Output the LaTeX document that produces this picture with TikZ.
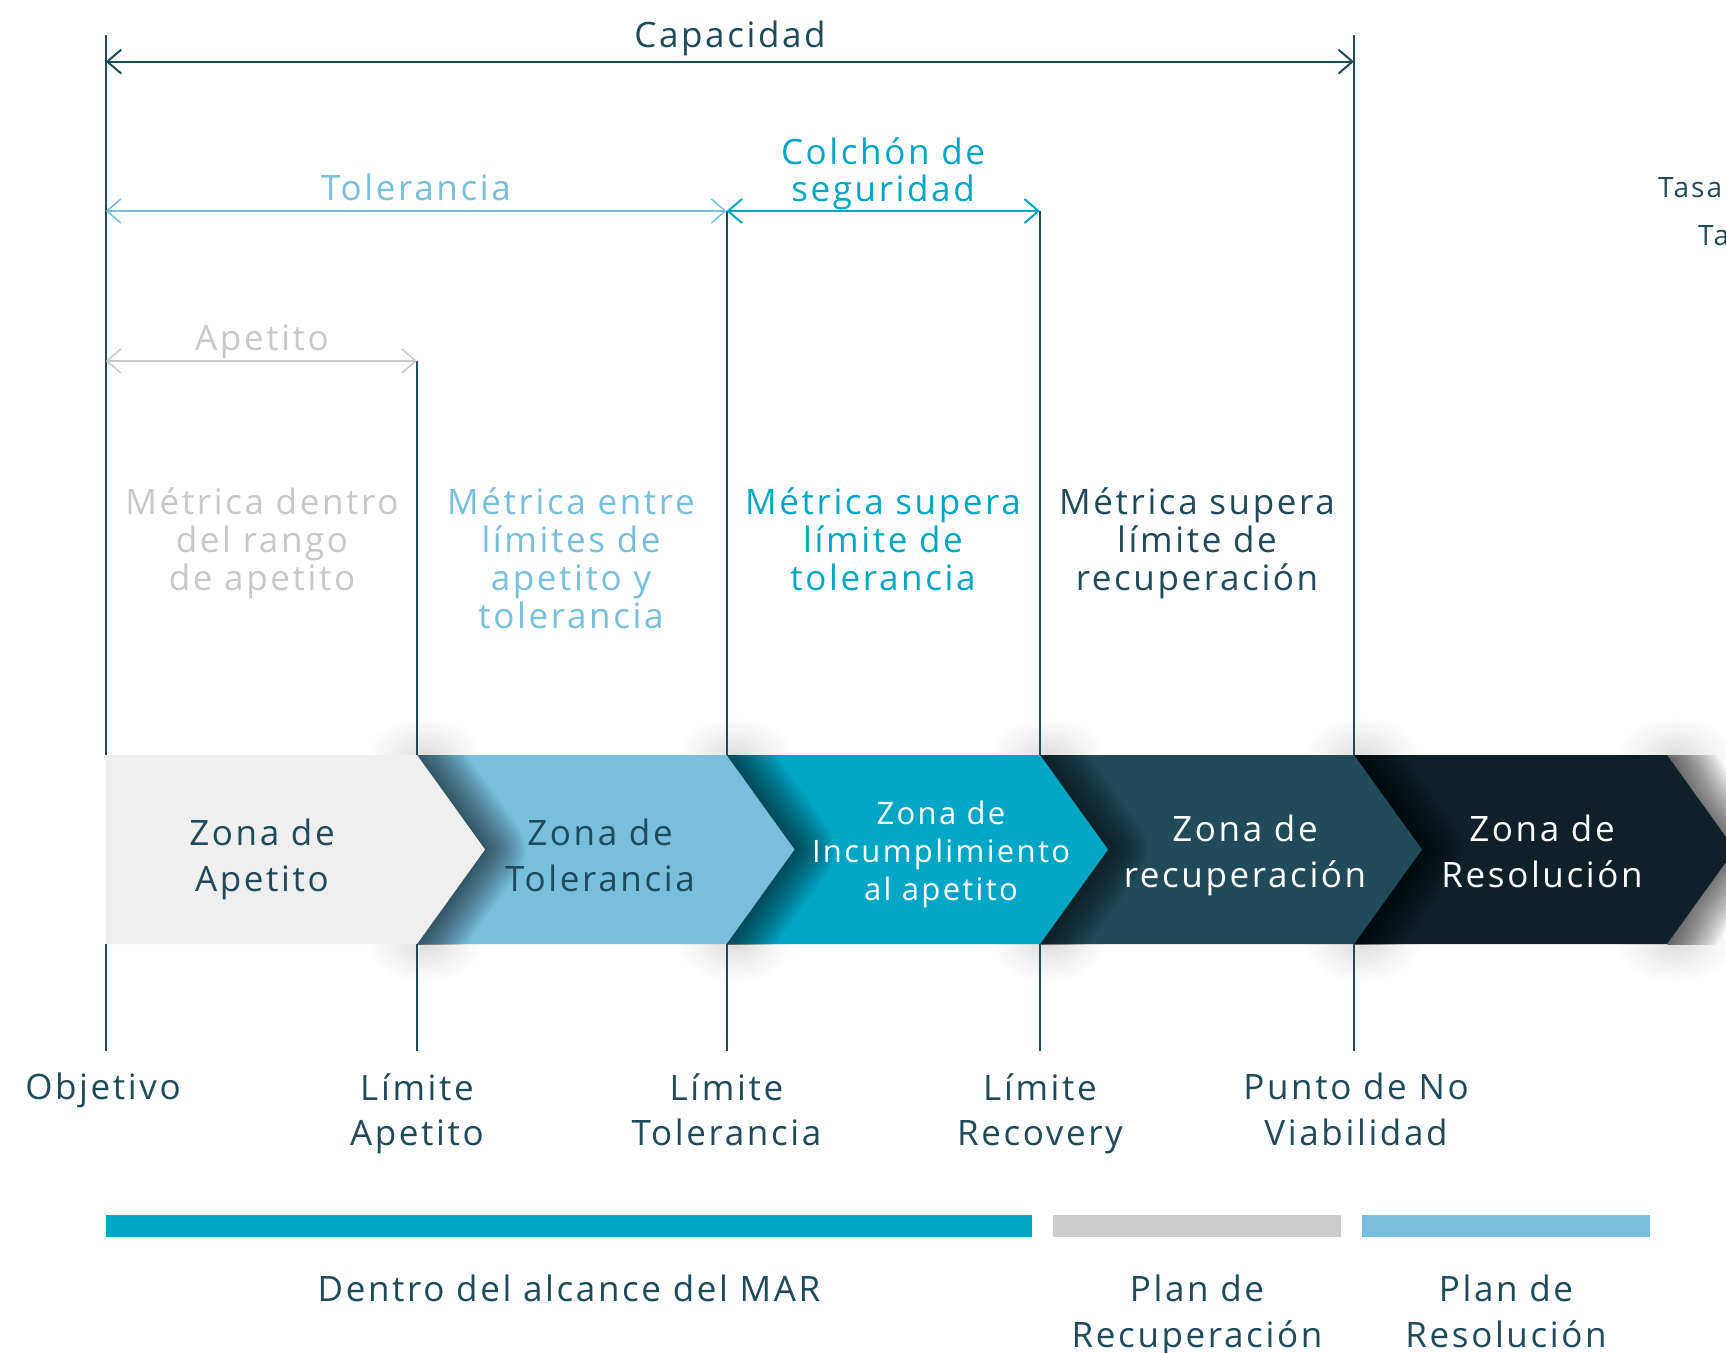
\documentclass[tikz,border=0pt]{standalone}
\usepackage{fontspec}
\setmainfont[LetterSpace=7.5]{Open Sans}
\usetikzlibrary{arrows.meta}
\definecolor{dk}{HTML}{1F4A5A}
\definecolor{gr}{HTML}{C8C8C8}
\definecolor{lb}{HTML}{77BFDD}
\definecolor{cy}{HTML}{00A6C6}
\definecolor{cA}{HTML}{EFEFEF}
\definecolor{cD}{HTML}{214B5A}
\definecolor{cE}{HTML}{0F2028}
\definecolor{barg}{HTML}{CCCCCC}
\tikzset{
  vline/.style={dk, line width=2pt},
  dimarrow/.style={line width=#1, {Straight Barb[length=14pt,width=24pt]}-{Straight Barb[length=14pt,width=24pt]}},
  shadelayer/.style={black, opacity=0.045, line width=#1, line join=round},
  glow/.style={inner color=black!13, outer color=white},
  bigtxt/.style={font=\fontsize{35}{38}\selectfont, align=center, inner sep=0pt},
  metr/.style={font=\fontsize{35}{38}\selectfont, align=center, inner sep=0pt, anchor=north},
  zone/.style={font=\fontsize{35}{46}\selectfont, align=center, inner sep=0pt},
  lab/.style={font=\fontsize{35}{45.5}\selectfont, align=center, inner sep=0pt, anchor=north},
}
% soft shadow cast by a chevron tip: #1 = x of straight end, #2 = x of tip
\newcommand{\tipshade}[2]{%
  \begin{scope}
    \clip (#1,755) rectangle (#1+140,944);
    \foreach \w in {5,10,...,80} {\draw[shadelayer=\w pt] (#1,755) -- (#2,849.5) -- (#1,944);}
  \end{scope}}
\newcommand{\edgeglow}[1]{%
  \shade[glow] (#1+8,755) ellipse [x radius=58, y radius=38];
  \shade[glow] (#1+8,944) ellipse [x radius=58, y radius=38];}
\begin{document}
\begin{tikzpicture}[x=1pt,y=-1pt]
\useasboundingbox (0,0) rectangle (1726,1352);
\clip (0,0) rectangle (1726,1352);
\fill[white] (0,0) rectangle (1726,1352);

% soft glows above and below the joins
\edgeglow{417}
\edgeglow{726.5}
\edgeglow{1040}
\edgeglow{1354}
\edgeglow{1667}

% chevrons, right to left, each casting a shadow from its tip
\tipshade{1667}{1735}
\path[fill=cE] (1354,755) -- (1667,755) -- (1735,849.5) -- (1667,944) -- (1354,944) -- cycle;
\tipshade{1354}{1422}
\path[fill=cD] (1040,755) -- (1354,755) -- (1422,849.5) -- (1354,944) -- (1040,944) -- cycle;
\tipshade{1040}{1108}
\path[fill=cy] (726.5,755) -- (1040,755) -- (1108,849.5) -- (1040,944) -- (726.5,944) -- cycle;
\tipshade{726.5}{794.5}
\path[fill=lb] (417,755) -- (726.5,755) -- (794.5,849.5) -- (726.5,944) -- (417,944) -- cycle;
\tipshade{417}{485}
\path[fill=cA] (105.7,755) -- (417,755) -- (485,849.5) -- (417,944) -- (105.7,944) -- cycle;

% chevron texts
\node[zone, dk] (z1) at (262,859.4) {Zona de\\Apetito};
\node[zone, dk] (z2) at (600,855) {Zona de\\Tolerancia};
\node[font=\fontsize{31}{38}\selectfont, align=center, inner sep=0pt, white] (z3) at (941,854) {Zona de\\Incumplimiento\\al apetito};
\node[zone, white] (z4) at (1245,855.4) {Zona de\\recuperación};
\node[zone, white] (z5) at (1542,851) {Zona de\\Resolución};

% named coordinates
\coordinate (a0) at (105.7,35);   \coordinate (a1) at (105.7,755);
\coordinate (b0) at (417,361);    \coordinate (b1) at (417,755);
\coordinate (c0) at (726.5,211);  \coordinate (c1) at (726.5,755);
\coordinate (d0) at (1040,211);   \coordinate (d1) at (1040,755);
\coordinate (e0) at (1354,35);    \coordinate (e1) at (1354,755);
\coordinate (a2) at (105.7,944);  \coordinate (a3) at (105.7,1051);
\coordinate (b2) at (417,944);    \coordinate (b3) at (417,1051);
\coordinate (c2) at (726.5,944);  \coordinate (c3) at (726.5,1051);
\coordinate (d2) at (1040,944);   \coordinate (d3) at (1040,1051);
\coordinate (e2) at (1354,944);   \coordinate (e3) at (1354,1051);

% vertical lines
\draw[vline] (a0) -- (a1); \draw[vline] (a2) -- (a3);
\draw[vline] (b0) -- (b1); \draw[vline] (b2) -- (b3);
\draw[vline] (c0) -- (c1); \draw[vline] (c2) -- (c3);
\draw[vline] (d0) -- (d1); \draw[vline] (d2) -- (d3);
\draw[vline] (e0) -- (e1); \draw[vline] (e2) -- (e3);

% dimension arrows
\coordinate (capL) at (105.7,61.6); \coordinate (capR) at (1354,61.6);
\draw[dk, dimarrow=2pt] (capL) -- (capR);
\node[bigtxt, dk] (cap) at (730,38.4) {Capacidad};

\coordinate (tolL) at (105.7,211); \coordinate (tolR) at (726.5,211);
\draw[lb, dimarrow=1.5pt] (tolL) -- (tolR);
\node[bigtxt, lb] (tol) at (416,187) {Tolerancia};

\coordinate (colL) at (726.5,211); \coordinate (colR) at (1040,211);
\draw[cy, dimarrow=2pt] (colL) -- (colR);
\node[font=\fontsize{35}{37}\selectfont, align=center, inner sep=0pt, cy] (col) at (883,174) {Colchón de\\seguridad};

\coordinate (apeL) at (105.7,361); \coordinate (apeR) at (417,361);
\draw[gr, dimarrow=1.5pt] (apeL) -- (apeR);
\node[bigtxt, gr] (ape) at (262,341.4) {Apetito};

% metric texts
\node[metr, gr] (m1) at (262,487) {Métrica dentro\\del rango\\de apetito};
\node[metr, lb] (m2) at (571,487) {Métrica entre\\límites de\\apetito y\\tolerancia};
\node[metr, cy] (m3) at (883,487) {Métrica supera\\límite de\\tolerancia};
\node[metr, dk] (m4) at (1197,487) {Métrica supera\\límite de\\recuperación};

% top-right cut-off texts
\node[font=\fontsize{28}{32}\selectfont, inner sep=0pt, anchor=west, dk] (t1) at (1658,188) {Tasa};
\node[font=\fontsize{28}{32}\selectfont, inner sep=0pt, anchor=west, dk] (t2) at (1698,236) {Ta};

% bottom labels
\node[lab, dk] (l1) at (103,1073) {Objetivo};
\node[lab, dk] (l2) at (417,1073) {Límite\\Apetito};
\node[lab, dk] (l3) at (726.5,1073) {Límite\\Tolerancia};
\node[lab, dk] (l4) at (1040,1073) {Límite\\Recovery};
\node[lab, dk] (l5) at (1356,1073) {Punto de No\\Viabilidad};

% bars
\fill[cy] (106,1215) rectangle (1032,1237);
\fill[barg] (1053,1215) rectangle (1341,1237);
\fill[lb] (1362,1215) rectangle (1650,1237);
\node[lab, dk] (p1) at (569,1275) {Dentro del alcance del MAR};
\node[lab, dk] (p2) at (1197,1275) {Plan de\\Recuperación};
\node[lab, dk] (p3) at (1506,1275) {Plan de\\Resolución};
\end{tikzpicture}
\end{document}
